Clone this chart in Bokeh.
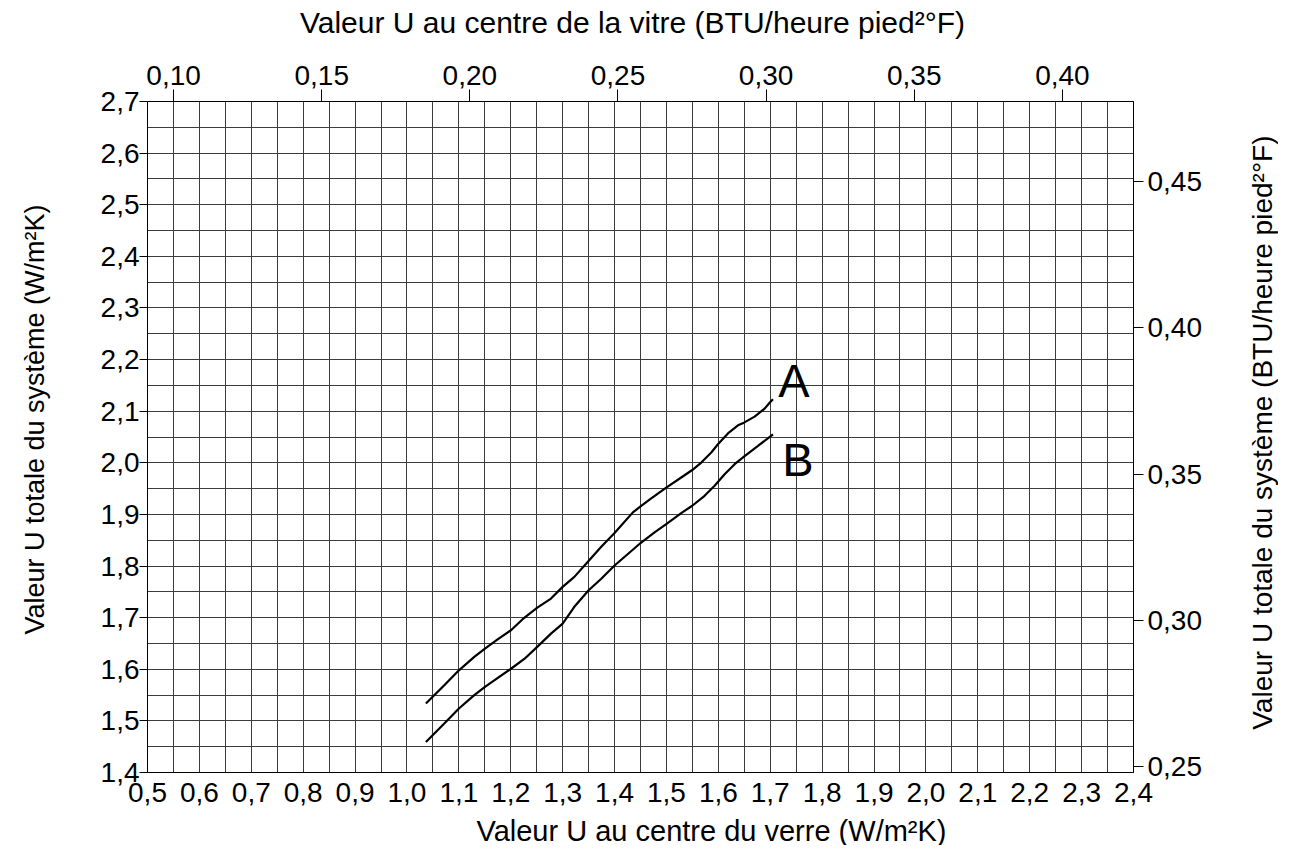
from bokeh.plotting import figure
from bokeh.layouts import column, row
from bokeh.models import Range1d, LinearAxis, FixedTicker, CustomJSTickFormatter, Label
from bokeh.core.properties import value
from bokeh.embed import file_html
from bokeh.resources import INLINE

# --- data ---
curve_a_x = [1.0365, 1.0719, 1.1001, 1.1297, 1.1503, 1.1747, 1.2004, 1.2229, 1.2505, 1.2775,
             1.300, 1.3225, 1.3482, 1.3739, 1.400, 1.4353, 1.4501, 1.4707, 1.4996, 1.5285,
             1.5497, 1.5671, 1.5864, 1.5992, 1.6185, 1.6378, 1.6494, 1.6699, 1.6892, 1.6988, 1.7053]
curve_a_y = [1.5335, 1.569, 1.598, 1.624, 1.640, 1.658, 1.6756, 1.697, 1.719, 1.737,
             1.7596, 1.779, 1.808, 1.837, 1.864, 1.904, 1.9155, 1.931, 1.952, 1.9715,
             1.986, 2.0005, 2.020, 2.036, 2.057, 2.0727, 2.0778, 2.0894, 2.105, 2.1165, 2.123]
curve_b_x = [1.0365, 1.0719, 1.1001, 1.1297, 1.1503, 1.2004, 1.2261, 1.2505, 1.2775, 1.300,
             1.3225, 1.3501, 1.3739, 1.400, 1.4257, 1.4501, 1.4771, 1.4996, 1.5285, 1.5497,
             1.5735, 1.5928, 1.6121, 1.6314, 1.6494, 1.6764, 1.7053]
curve_b_y = [1.459, 1.495, 1.524, 1.550, 1.566, 1.601, 1.620, 1.643, 1.669, 1.6885,
             1.721, 1.753, 1.775, 1.801, 1.8233, 1.8446, 1.8652, 1.8813, 1.9026, 1.9168,
             1.936, 1.9554, 1.978, 1.9973, 2.0121, 2.0327, 2.0553]
curve_labels = ["A", "B"]
label_x = [1.7458, 1.7535]
label_y = [2.160, 2.006]
bottom_ticks = [0.5, 0.6, 0.7, 0.8, 0.9, 1.0, 1.1, 1.2, 1.3, 1.4, 1.5, 1.6, 1.7, 1.8, 1.9,
                2.0, 2.1, 2.2, 2.3, 2.4]
left_ticks = [1.4, 1.5, 1.6, 1.7, 1.8, 1.9, 2.0, 2.1, 2.2, 2.3, 2.4, 2.5, 2.6, 2.7]
top_ticks = [0.10, 0.15, 0.20, 0.25, 0.30, 0.35, 0.40]
right_ticks = [0.25, 0.30, 0.35, 0.40, 0.45]
title_bottom = "Valeur U au centre du verre (W/m²K)"
title_left = "Valeur U totale du système (W/m²K)"
title_top = "Valeur U au centre de la vitre (BTU/heure pied²°F)"
title_right = "Valeur U totale du système (BTU/heure pied²°F)"

# grid every 0.05
x_minor = [round(0.5 + 0.05 * i, 2) for i in range(39)]
y_minor = [round(1.4 + 0.05 * i, 2) for i in range(27)]

FONT = "Liberation Sans"
GRID = "#3c3c3c"

TOTAL_W, TOTAL_H = 1278, 845
TOP_H, BOT_H = 48, 31
SIDE_L, SIDE_R = 70, 70
MID_H = TOTAL_H - TOP_H - BOT_H
MAIN_W = TOTAL_W - SIDE_L - SIDE_R

p = figure(width=MAIN_W, height=MID_H, output_backend="svg", toolbar_location=None,
           x_range=Range1d(0.5, 2.4), y_range=Range1d(1.4, 2.7),
           min_border_left=77, min_border_right=75, min_border_top=53, min_border_bottom=42,
           background_fill_color="white", border_fill_color="white")
p.outline_line_color = "black"
p.outline_line_width = 1

comma1 = CustomJSTickFormatter(code="return tick.toFixed(1).replace('.', ',');")
comma2 = CustomJSTickFormatter(code="return tick.toFixed(2).replace('.', ',');")

# bottom axis
xa = p.xaxis[0]
xa.ticker = FixedTicker(ticks=bottom_ticks, minor_ticks=x_minor)
xa.formatter = comma1
xa.major_tick_out = 0
xa.major_tick_in = 0
xa.minor_tick_out = 0
xa.minor_tick_in = 0
xa.major_label_standoff = 10

# left axis
ya = p.yaxis[0]
ya.ticker = FixedTicker(ticks=left_ticks, minor_ticks=y_minor)
ya.formatter = comma1
ya.major_tick_out = 8
ya.major_tick_in = 0
ya.minor_tick_out = 0
ya.minor_tick_in = 0
ya.major_label_standoff = 0

# top axis
p.extra_x_ranges = {"btu_x": Range1d(0.0912, 0.424)}
ta = LinearAxis(x_range_name="btu_x", ticker=FixedTicker(ticks=top_ticks), formatter=comma2)
ta.major_tick_out = 12
ta.major_tick_in = 0
ta.minor_tick_out = 0
ta.major_label_standoff = 5
p.add_layout(ta, "above")

# right axis
p.extra_y_ranges = {"btu_y": Range1d(0.248, 0.4774)}
ra = LinearAxis(y_range_name="btu_y", ticker=FixedTicker(ticks=right_ticks), formatter=comma2)
ra.major_tick_out = 10
ra.major_tick_in = 0
ra.minor_tick_out = 0
ra.major_label_standoff = 4
p.add_layout(ra, "right")

for ax in [xa, ya, ta, ra]:
    ax.axis_line_color = "black"
    ax.major_tick_line_color = "black"
    ax.major_label_text_font = FONT
    ax.major_label_text_font_size = "28px"
    ax.major_label_text_color = "black"

for g in [p.xgrid[0], p.ygrid[0]]:
    g.grid_line_color = GRID
    g.grid_line_width = 1
    g.minor_grid_line_color = GRID
    g.minor_grid_line_width = 1

p.line(curve_a_x, curve_a_y, line_color="black", line_width=2.2, line_join="round")
p.line(curve_b_x, curve_b_y, line_color="black", line_width=2.2, line_join="round")
p.text(label_x, label_y, text=curve_labels, text_font=value(FONT), text_font_size="47px",
       text_align="center", text_baseline="middle", text_color="black")


def title_strip(w, h, text, x, y, size, angle=0):
    """A blank strip (pixel coordinates) that carries one axis title."""
    f = figure(width=w, height=h, output_backend="svg", toolbar_location=None,
               x_range=Range1d(0, w), y_range=Range1d(0, h), min_border=0,
               x_axis_location=None, y_axis_location=None,
               background_fill_color="white", border_fill_color="white")
    f.outline_line_color = None
    f.grid.visible = False
    f.add_layout(Label(x=x, y=y, text=text, text_font=FONT, text_font_size=size,
                       text_color="black", text_align="center", text_baseline="middle",
                       angle=angle, angle_units="deg"))
    return f


top_strip = title_strip(TOTAL_W, TOP_H, title_top, 632, TOP_H - 22, "30px")
bottom_strip = title_strip(TOTAL_W, BOT_H, title_bottom, 711, 15, "29px")
left_strip = title_strip(SIDE_L, MID_H, title_left, 34, MID_H - (411 - TOP_H), "27px", 90)
right_strip = title_strip(SIDE_R, MID_H, title_right, 54, MID_H - (426 - TOP_H), "28px", 90)

page = column(top_strip, row(left_strip, p, right_strip), bottom_strip)

open("out.html", "w").write(file_html(page, INLINE))
